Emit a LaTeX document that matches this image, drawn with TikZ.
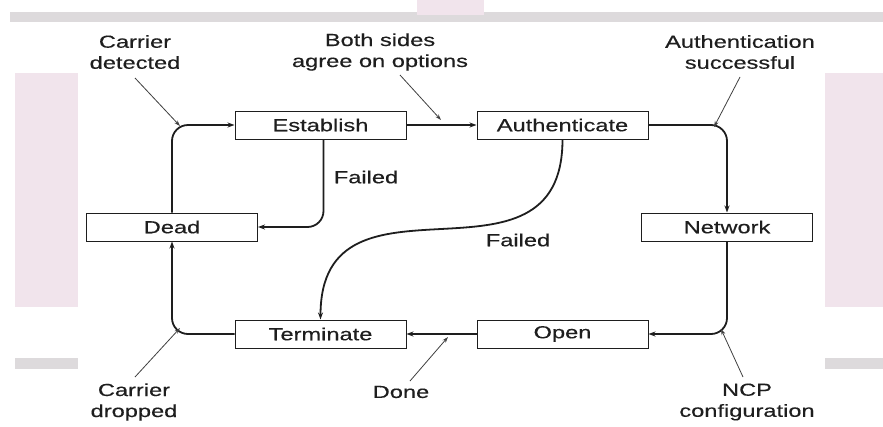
\documentclass[tikz,border=0pt]{standalone}
\usepackage{fontspec}
\setmainfont{Liberation Sans}[FakeStretch=1.35,FakeBold=0.35]
\usetikzlibrary{arrows.meta}
\definecolor{ink}{HTML}{1E1E1E}
\definecolor{bgpink}{HTML}{F1E4EC}
\definecolor{bggray}{HTML}{DDDADC}
\tikzset{
  state/.style={draw=ink, line width=1pt, minimum width=171pt, minimum height=28pt,
    inner sep=0pt, font=\fontsize{17.5}{21}\selectfont, text=ink},
  conn/.style={draw=ink, line width=1.8pt, rounded corners=16pt,
    -{Stealth[length=7pt,width=5pt]}},
  note/.style={font=\fontsize{17.5}{21}\selectfont, text=ink, align=center, inner sep=0pt},
  pointer/.style={draw=ink!85, line width=0.8pt, -{Stealth[length=6pt,width=4pt]}},
  lbl/.style={font=\fontsize{17.5}{21}\selectfont, text=ink, inner sep=0pt}
}
\begin{document}
\begin{tikzpicture}[x=1pt,y=-1pt]
\useasboundingbox (0,0) rectangle (883,426);
% faint background of the original screenshot
\fill[white] (0,0) rectangle (883,426);
\fill[bggray] (10,12) rectangle (883,22);
\fill[bgpink] (417,0) rectangle (484,15);
\fill[bgpink] (15,73) rectangle (78,307);
\fill[bgpink] (825,73) rectangle (883,307);
\fill[bggray] (15,358) rectangle (78,369);
\fill[bggray] (825,358) rectangle (883,369);
\fill[white] (78,30) rectangle (825,426);

% states
\node[state] (est)  at (320.5,125) {Establish};
\node[state] (auth) at (562.5,125) {Authenticate};
\node[state] (dead) at (172,227) {Dead};
\node[state] (net)  at (727,227) {Network};
\node[state] (term) at (320.5,334) {Terminate};
\node[state] (open) at (562.5,334) {Open};

% transitions
\draw[conn] (dead.north) |- (est.west);
\draw[conn] (est.east) -- (auth.west);
\draw[conn] (auth.east) -| (net.north);
\draw[conn] (net.south) |- (open.east);
\draw[conn] (open.west) -- (term.east);
\draw[conn] (term.west) -| (dead.south);
\draw[conn] ([xshift=3pt]est.south) |- (dead.east);
\draw[conn, rounded corners=0pt] (auth.south) to[out=-90,in=90,looseness=1.4] (term.north);

% edge labels
\node[lbl] (f1) at (366,177) {Failed};
\node[lbl] (f2) at (518,240) {Failed};

% annotations
\node[note] (ncd) at (135,52) {Carrier\\detected};
\node[note] (nbs) at (380,52) {Both sides\\agree on options};
\node[note] (nas) at (740,52) {Authentication\\successful};
\node[note] (ncr) at (134,402) {Carrier\\dropped};
\node[note] (ndn) at (401,392) {Done};
\node[note] (ncp) at (747,402) {NCP\\configuration};

\coordinate (scd) at (135,78);   \coordinate (tcd) at (180,126);
\coordinate (sbs) at (400,75);   \coordinate (tbs) at (441,120);
\coordinate (sas) at (740,77);   \coordinate (tas) at (714,127);
\coordinate (scr) at (135,377);  \coordinate (tcr) at (180,328);
\coordinate (sdn) at (410,381);  \coordinate (tdn) at (448,337);
\coordinate (scp) at (743,377);  \coordinate (tcp) at (721,329);

\draw[pointer] (scd) -- (tcd);
\draw[pointer] (sbs) -- (tbs);
\draw[pointer] (sas) -- (tas);
\draw[pointer] (scr) -- (tcr);
\draw[pointer] (sdn) -- (tdn);
\draw[pointer] (scp) -- (tcp);
\end{tikzpicture}
\end{document}
